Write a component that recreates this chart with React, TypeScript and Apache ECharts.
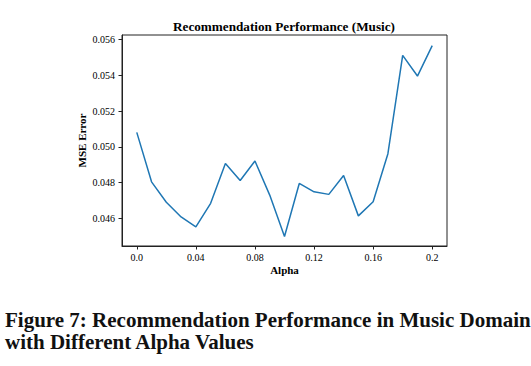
import React, { useEffect, useRef } from "react";
import * as echarts from "echarts";

const alphaValues = [0, 0.01, 0.02, 0.03, 0.04, 0.05, 0.06, 0.07, 0.08, 0.09, 0.1, 0.11, 0.12, 0.13, 0.14, 0.15, 0.16, 0.17, 0.18, 0.19, 0.2];
const mseValues = [0.05081, 0.04805, 0.04691, 0.04609, 0.04554, 0.04685, 0.04907, 0.04812, 0.04921, 0.04731, 0.045, 0.04796, 0.04749, 0.04735, 0.0484, 0.04615, 0.04694, 0.04962, 0.0551, 0.05395, 0.05565];
const xTicks = [0, 0.04, 0.08, 0.12, 0.16, 0.2];
const xTickLabels = ["0.0", "0.04", "0.08", "0.12", "0.16", "0.2"];
const yTicks = [0.046, 0.048, 0.05, 0.052, 0.054, 0.056];
const yTickLabels = ["0.046", "0.048", "0.050", "0.052", "0.054", "0.056"];

const SERIF = "'Liberation Serif', 'DejaVu Serif', serif";

export default function App() {
  const ref = useRef<HTMLDivElement>(null);
  useEffect(() => {
    document.body.style.margin = "0";
    const chart = echarts.init(ref.current!, null, { renderer: "svg" });
    const data = alphaValues.map((a, i) => [a, mseValues[i]]);
    chart.setOption({
      animation: false,
      backgroundColor: "#ffffff",
      grid: {
        left: 122,
        right: 84,
        top: 35,
        bottom: 120,
        show: true,
        borderColor: "#222",
        borderWidth: 1,
        backgroundColor: "transparent",
      },
      xAxis: {
        type: "value",
        min: -0.01,
        max: 0.21,
        name: "Alpha",
        nameLocation: "middle",
        nameGap: 18,
        nameMoveOverlap: false,
        nameTextStyle: { fontFamily: SERIF, fontWeight: "bold", fontSize: 11, color: "#000" },
        axisLine: { show: true, onZero: false, lineStyle: { color: "#222", width: 1 } },
        axisTick: { show: true, inside: false, length: 3.5, customValues: xTicks, lineStyle: { color: "#222" } },
        axisLabel: {
          customValues: xTicks,
          margin: 6,
          fontFamily: SERIF,
          fontSize: 10,
          color: "#000",
          formatter: (v: number) => {
            const idx = xTicks.findIndex((t) => Math.abs(t - v) < 1e-9);
            return idx >= 0 ? xTickLabels[idx] : "";
          },
        },
        splitLine: { show: false },
      },
      yAxis: {
        type: "value",
        min: 0.04447,
        max: 0.05624,
        name: "MSE Error",
        nameLocation: "middle",
        nameGap: 35,
        nameMoveOverlap: false,
        nameTextStyle: { fontFamily: SERIF, fontWeight: "bold", fontSize: 11, color: "#000" },
        axisLine: { show: true, onZero: false, lineStyle: { color: "#222", width: 1 } },
        axisTick: { show: true, inside: false, length: 3.5, customValues: yTicks, lineStyle: { color: "#222" } },
        axisLabel: {
          customValues: yTicks,
          margin: 7,
          fontFamily: SERIF,
          fontSize: 10,
          color: "#000",
          formatter: (v: number) => {
            const idx = yTicks.findIndex((t) => Math.abs(t - v) < 1e-9);
            return idx >= 0 ? yTickLabels[idx] : "";
          },
        },
        splitLine: { show: false },
      },
      series: [
        {
          type: "line",
          data,
          showSymbol: false,
          symbol: "none",
          lineStyle: { color: "#1f77b4", width: 1.5 },
        },
      ],
      graphic: [
        {
          type: "text",
          x: 284,
          y: 26,
          style: {
            text: "Recommendation Performance (Music)",
            align: "center",
            verticalAlign: "middle",
            fontFamily: SERIF,
            fontWeight: "bold",
            fontSize: 13.2,
            fill: "#000",
          },
        },
        {
          type: "text",
          x: 5,
          y: 320,
          style: {
            text: "Figure 7: Recommendation Performance in Music Domain",
            align: "left",
            verticalAlign: "middle",
            fontFamily: SERIF,
            fontWeight: "bold",
            fontSize: 21,
            fill: "#111",
          },
        },
        {
          type: "text",
          x: 5,
          y: 342,
          style: {
            text: "with Different Alpha Values",
            align: "left",
            verticalAlign: "middle",
            fontFamily: SERIF,
            fontWeight: "bold",
            fontSize: 21,
            fill: "#111",
          },
        },
      ],
    });
    return () => chart.dispose();
  }, []);
  return <div ref={ref} style={{ width: 531, height: 366 }} />;
}
